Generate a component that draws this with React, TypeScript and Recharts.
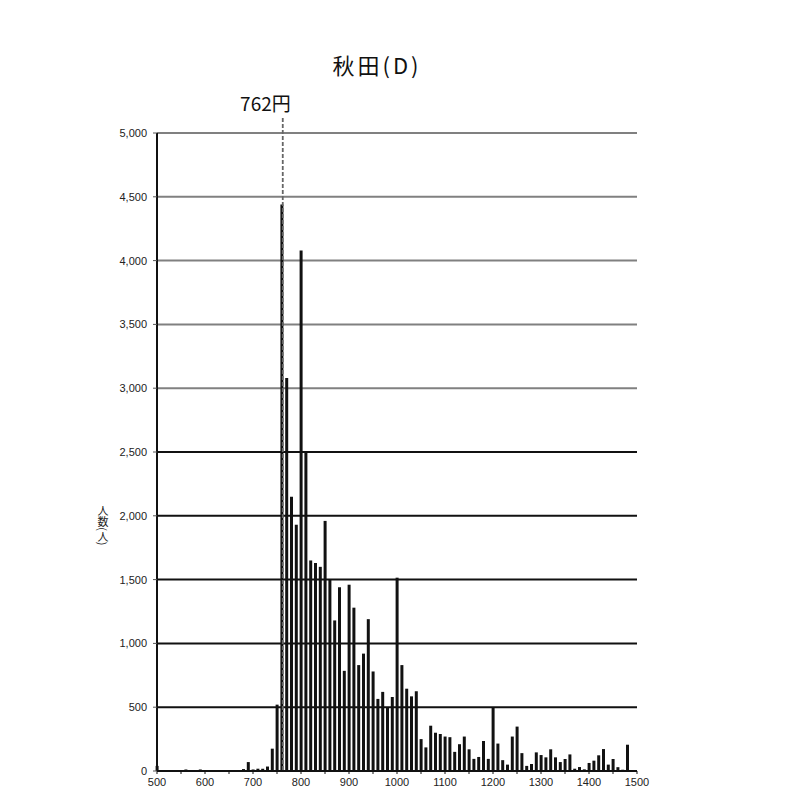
import { Bar, BarChart, CartesianGrid, ReferenceLine, XAxis, YAxis } from "recharts";

// 時給の階級 (10円刻み) と人数
const bins = [
  500, 510, 520, 530, 540, 550, 560, 570, 580, 590,
  600, 610, 620, 630, 640, 650, 660, 670, 680, 690,
  700, 710, 720, 730, 740, 750, 760, 770, 780, 790,
  800, 810, 820, 830, 840, 850, 860, 870, 880, 890,
  900, 910, 920, 930, 940, 950, 960, 970, 980, 990,
  1000, 1010, 1020, 1030, 1040, 1050, 1060, 1070, 1080, 1090,
  1100, 1110, 1120, 1130, 1140, 1150, 1160, 1170, 1180, 1190,
  1200, 1210, 1220, 1230, 1240, 1250, 1260, 1270, 1280, 1290,
  1300, 1310, 1320, 1330, 1340, 1350, 1360, 1370, 1380, 1390,
  1400, 1410, 1420, 1430, 1440, 1450, 1460, 1470, 1480, 1490,
  1500,
];

const counts = [
  40, 5, 3, 3, 5, 5, 12, 5, 4, 12,
  5, 4, 3, 3, 3, 4, 5, 8, 15, 70,
  12, 18, 18, 35, 175, 520, 4440, 3080, 2150, 1930,
  4080, 2500, 1650, 1630, 1600, 1960, 1500, 1180, 1440, 785,
  1460, 1280, 830, 920, 1190, 780, 565, 620, 500, 580,
  1515, 830, 645, 585, 625, 250, 185, 355, 300, 290,
  270, 265, 150, 210, 270, 170, 95, 110, 235, 95,
  495, 215, 85, 50, 270, 348, 140, 40, 55, 146,
  125, 107, 170, 107, 70, 94, 130, 18, 31, 13,
  63, 81, 123, 172, 50, 94, 30, 10, 206, 8,
  0,
];

const xTicks = [
  500, 550, 600, 650, 700, 750, 800, 850, 900, 950, 1000,
  1050, 1100, 1150, 1200, 1250, 1300, 1350, 1400, 1450, 1500,
];
const yTicks = [0, 500, 1000, 1500, 2000, 2500, 3000, 3500, 4000, 4500, 5000];
const grayGrid = [3000, 3500, 4000, 4500, 5000];
const blackGrid = [500, 1000, 1500, 2000, 2500];

const MIN_WAGE = 762;
const TITLE = "秋田(D)";
const Y_LABEL = "人数(人)";

const data = bins.map((bin, i) => ({ bin, count: counts[i] }));

const tickFont = { fontSize: 11, fill: "#222", fontFamily: "Liberation Sans, Arial, sans-serif" };
const cjk = "'Noto Sans CJK JP', 'Noto Sans', sans-serif";

const gridAt = (vals: number[]) => (props: any) => {
  const { yAxis, offset } = props;
  if (yAxis && typeof yAxis.scale === "function") return vals.map((v) => yAxis.scale(v));
  return vals.map((v) => offset.top + offset.height * (1 - v / 5000));
};

function WageLine(p: any) {
  const top = Math.min(p.y1, p.y2);
  const bottom = Math.max(p.y1, p.y2);
  return (
    <g>
      <line
        x1={p.x1}
        x2={p.x2}
        y1={top - 15}
        y2={bottom}
        stroke="#666"
        strokeWidth={1.8}
        strokeDasharray="4 2"
      />
      <text
        x={p.x1 + 8}
        y={top - 22}
        textAnchor="end"
        fontSize={19}
        fontFamily={cjk}
        fill="#111"
      >
        {`${MIN_WAGE}円`}
      </text>
    </g>
  );
}

function YLabel(props: any) {
  const vb = props.viewBox;
  return (
    <text
      x={vb.x + 6}
      y={vb.y + vb.height * 0.615}
      textAnchor="middle"
      fontSize={11}
      fontFamily={cjk}
      fill="#222"
      style={{ writingMode: "vertical-rl" }}
    >
      {Y_LABEL}
    </text>
  );
}

export default function App() {
  return (
    <div style={{ position: "relative", width: 784, height: 782 }}>
      <div
        style={{
          position: "absolute",
          left: 369,
          top: 45,
          transform: "translateX(-50%)",
          fontSize: 22,
          lineHeight: 1,
          fontFamily: cjk,
          color: "#111",
          whiteSpace: "nowrap",
          letterSpacing: 3,
        }}
      >
        {TITLE}
      </div>
      <BarChart width={784} height={782} data={data} margin={{ top: 125, right: 155, left: 89, bottom: 1 }}>
        <CartesianGrid
          vertical={false}
          stroke="#808080"
          strokeWidth={2}
          horizontalCoordinatesGenerator={gridAt(grayGrid)}
        />
        <CartesianGrid
          vertical={false}
          stroke="#111"
          strokeWidth={2}
          horizontalCoordinatesGenerator={gridAt(blackGrid)}
        />
        <XAxis
          dataKey="bin"
          type="number"
          domain={[500, 1500]}
          ticks={xTicks}
          interval={0}
          tickFormatter={(v: number) => (v % 100 === 0 ? String(v) : "")}
          tick={tickFont}
          tickSize={3}
          tickMargin={4}
          height={18}
          axisLine={{ stroke: "#111", strokeWidth: 2 }}
          tickLine={{ stroke: "#111" }}
        />
        <YAxis
          type="number"
          domain={[0, 5000]}
          ticks={yTicks}
          interval={0}
          tickFormatter={(v: number) => v.toLocaleString("en-US")}
          tick={tickFont}
          tickSize={4}
          tickMargin={6}
          width={60}
          axisLine={{ stroke: "#111", strokeWidth: 2 }}
          tickLine={{ stroke: "#555" }}
          label={{ content: <YLabel /> }}
        />
        <Bar dataKey="count" fill="#111" barSize={3} isAnimationActive={false} />
        <ReferenceLine x={MIN_WAGE} shape={(p: any) => <WageLine {...p} />} />
      </BarChart>
    </div>
  );
}
